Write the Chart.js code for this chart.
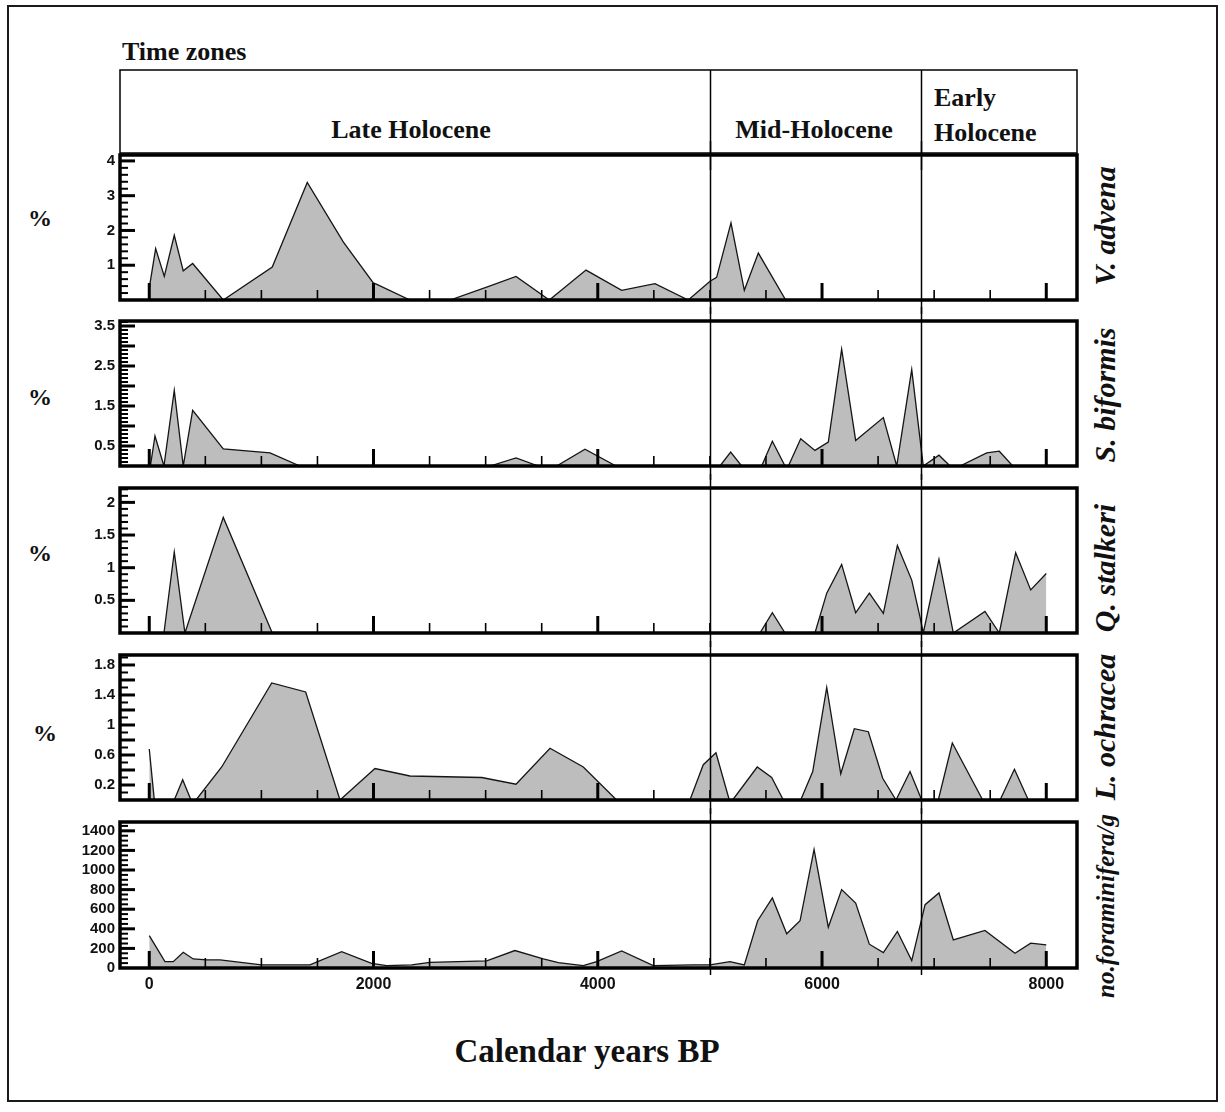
<!DOCTYPE html>
<html>
<head>
<meta charset="utf-8">
<title>Foraminifera records by time zone</title>
<script src="https://cdn.jsdelivr.net/npm/chart.js@4.4.1/dist/chart.umd.min.js"></script>
<style>
  html, body { margin:0; padding:0; background:#fff; }
  #stage { position:relative; width:1225px; height:1112px; overflow:hidden; background:#fff; }
  #frame { position:absolute; left:7px; top:5px; width:1211px; height:1097px; border:2px solid #1a1a1a; box-sizing:border-box; }
  canvas { position:absolute; left:0; }
  .lbl { position:absolute; font-family:"Liberation Serif","Times New Roman",serif; font-weight:bold; color:#111; white-space:nowrap; line-height:1; }
  .c { transform:translate(-50%,-50%); }
  .sp { position:absolute; font-family:"Liberation Serif","Times New Roman",serif; font-weight:bold; font-style:italic; color:#111; white-space:nowrap; font-size:30px; line-height:1; transform:translate(-50%,-50%) rotate(-90deg); }
</style>
</head>
<body>
<div id="stage">
  <div id="frame"></div>
  <div class="lbl" style="left:122px;top:39px;font-size:26px;">Time zones</div>
  <div class="lbl c" style="left:411px;top:130px;font-size:26px;">Late Holocene</div>
  <div class="lbl c" style="left:814px;top:130px;font-size:26px;">Mid-Holocene</div>
  <div class="lbl" style="left:934px;top:85px;font-size:26px;">Early</div>
  <div class="lbl" style="left:934px;top:120px;font-size:26px;">Holocene</div>

  <div class="lbl c" style="left:40px;top:218px;font-size:24px;">%</div>
  <div class="lbl c" style="left:40px;top:397px;font-size:24px;">%</div>
  <div class="lbl c" style="left:40px;top:553px;font-size:24px;">%</div>
  <div class="lbl c" style="left:45px;top:733px;font-size:24px;">%</div>

  <div class="sp" style="left:1105px;top:226px;">V. advena</div>
  <div class="sp" style="left:1105px;top:395px;">S. biformis</div>
  <div class="sp" style="left:1105px;top:568px;">Q. stalkeri</div>
  <div class="sp" style="left:1105px;top:727px;">L. ochracea</div>
  <div class="sp" style="left:1105px;top:906px;font-size:25px;">no.foraminifera/g</div>

  <div class="lbl c" style="left:587px;top:1051px;font-size:33px;">Calendar years BP</div>
</div>
<script>
// ---------------- data ----------------
const zoneBounds = [5000, 6880];            // Late/Mid and Mid/Early Holocene boundaries
const xTickVals   = [0, 2000, 4000, 6000, 8000];
const xTickLabels = ['0', '2000', '4000', '6000', '8000'];

const advenaYears = [0, 57, 134, 223, 303, 387, 660, 1097, 1409, 1730, 1998, 2030, 2325, 2683, 3009, 3271, 3568, 3895, 4213, 4510, 4807, 5001, 5060, 5188, 5307, 5432, 5676];
const advenaPct   = [0.35, 1.48, 0.68, 1.86, 0.84, 1.05, 0, 0.95, 3.38, 1.67, 0.49, 0.45, 0, 0, 0.37, 0.68, 0, 0.86, 0.28, 0.47, 0, 0.54, 0.65, 2.22, 0.28, 1.35, 0];

const biformisYears = [10, 51, 131, 223, 303, 387, 660, 1077, 1344, 3039, 3271, 3470, 3633, 3886, 4163, 5090, 5185, 5283, 5462, 5557, 5670, 5700, 5810, 5937, 6056, 6175, 6300, 6547, 6666, 6800, 6903, 7043, 7142, 7231, 7469, 7581, 7701];
const biformisPct   = [0, 0.75, 0, 1.89, 0, 1.39, 0.43, 0.33, 0, 0, 0.2, 0, 0, 0.42, 0, 0, 0.35, 0, 0, 0.62, 0, 0, 0.68, 0.39, 0.6, 2.92, 0.64, 1.21, 0, 2.41, 0, 0.27, 0, 0, 0.33, 0.37, 0];

const stalkeriYears = [131, 223, 318, 660, 1097, 5446, 5557, 5670, 5937, 6042, 6175, 6300, 6422, 6547, 6672, 6800, 6873, 6903, 7043, 7171, 7453, 7581, 7727, 7861, 8000];
const stalkeriPct   = [0, 1.24, 0, 1.77, 0, 0, 0.31, 0, 0, 0.61, 1.05, 0.31, 0.61, 0.3, 1.34, 0.81, 0.25, 0, 1.13, 0, 0.33, 0, 1.23, 0.66, 0.91];

const ochraceaYears = [0, 45, 223, 298, 372, 417, 646, 1092, 1395, 1701, 2013, 2325, 2965, 3271, 3574, 3871, 4168, 4822, 4941, 5054, 5173, 5203, 5422, 5551, 5655, 5810, 5917, 6042, 6167, 6288, 6413, 6541, 6660, 6785, 6889, 7037, 7162, 7433, 7588, 7716, 7840];
const ochraceaPct   = [0.68, 0, 0, 0.27, 0, 0, 0.44, 1.56, 1.44, 0, 0.42, 0.32, 0.3, 0.21, 0.69, 0.44, 0, 0, 0.47, 0.63, 0, 0, 0.44, 0.3, 0, 0, 0.38, 1.5, 0.35, 0.95, 0.91, 0.29, 0, 0.38, 0, 0, 0.76, 0, 0, 0.41, 0];

const foramYears = [0, 140, 214, 303, 392, 512, 631, 1002, 1433, 1716, 1983, 2117, 2340, 2503, 3009, 3261, 3514, 3648, 3871, 3990, 4213, 4495, 4852, 5001, 5179, 5307, 5426, 5557, 5685, 5804, 5929, 6056, 6175, 6300, 6422, 6547, 6672, 6800, 6919, 7043, 7171, 7453, 7721, 7861, 8000];
const foramPerG  = [331, 65, 65, 161, 92, 82, 82, 31, 31, 167, 48, 24, 31, 58, 72, 178, 92, 55, 24, 65, 174, 24, 31, 31, 65, 31, 482, 715, 349, 482, 1210, 417, 800, 663, 243, 157, 373, 75, 646, 766, 287, 383, 150, 253, 236];

// y tick labels of each panel
const advenaYTicks   = [1, 2, 3, 4];
const biformisYTicks = [0.5, 1.5, 2.5, 3.5];
const stalkeriYTicks = [0.5, 1, 1.5, 2];
const ochraceaYTicks = [0.2, 0.6, 1, 1.4, 1.8];
const foramYTicks    = [0, 200, 400, 600, 800, 1000, 1200, 1400];

// ---------------- layout ----------------
const X_MIN = -261, X_MAX = 8274;
const PAD = 14;
const stage = document.getElementById('stage');

const panels = [
  { years: advenaYears,   vals: advenaPct,   labels: advenaYTicks,   max: 4.17,  top: 155, bottom: 300, major: 1,   minor: 0.2 },
  { years: biformisYears, vals: biformisPct, labels: biformisYTicks, max: 3.625, top: 321, bottom: 466, major: 0.5, minor: 0.1 },
  { years: stalkeriYears, vals: stalkeriPct, labels: stalkeriYTicks, max: 2.22,  top: 488, bottom: 633, major: 0.5, minor: 0.1 },
  { years: ochraceaYears, vals: ochraceaPct, labels: ochraceaYTicks, max: 1.933, top: 655, bottom: 800, major: 0.2, minor: 0.1 },
  { years: foramYears,    vals: foramPerG,   labels: foramYTicks,    max: 1490,  top: 822, bottom: 968, major: 200, minor: 50 }
];

function drawLine(ctx, x1, y1, x2, y2, w) {
  ctx.lineWidth = w;
  ctx.beginPath(); ctx.moveTo(x1, y1); ctx.lineTo(x2, y2); ctx.stroke();
}

const panelDeco = {
  id: 'panelDeco',
  afterDatasetsDraw(chart, args, o) {
    const { ctx, chartArea: a, scales } = chart;
    const xs = scales.x, ys = scales.y;
    ctx.save();
    ctx.strokeStyle = '#000';
    ctx.lineCap = 'butt';
    if (o.header) {
      ctx.lineWidth = 1.5;
      ctx.strokeRect(a.left, a.top, a.right - a.left, a.bottom - a.top);
      zoneBounds.forEach(b => { const px = Math.round(xs.getPixelForValue(b)) + 0.5; drawLine(ctx, px, a.top, px, chart.height, 1.5); });
      ctx.restore();
      return;
    }
    // x ticks inside, pointing up
    for (let v = 0; v <= 8000; v += 500) {
      const px = xs.getPixelForValue(v);
      const maj = xTickVals.includes(v);
      drawLine(ctx, px, a.bottom, px, a.bottom - (maj ? 17 : 10), maj ? 3 : 1.6);
    }
    // y ticks inside, pointing right
    for (let k = 1; k * o.minor <= o.max + 1e-9; k++) {
      const v = k * o.minor;
      const r = v / o.major;
      const maj = Math.abs(r - Math.round(r)) < 1e-6;
      const py = ys.getPixelForValue(v);
      drawLine(ctx, a.left, py, a.left + (maj ? 15 : 8), py, maj ? 3 : 2);
    }
    // zone boundary lines
    const yEnd = o.last ? a.bottom + 7 : chart.height;
    zoneBounds.forEach(b => { const px = Math.round(xs.getPixelForValue(b)) + 0.5; drawLine(ctx, px, 0, px, yEnd, 1.5); });
    // panel frame
    ctx.lineWidth = 3.5;
    ctx.strokeRect(a.left, a.top, a.right - a.left, a.bottom - a.top);
    ctx.restore();
  }
};

function makeCanvas(top, h) {
  const c = document.createElement('canvas');
  c.width = 1225; c.height = h;
  c.style.width = '1225px'; c.style.height = h + 'px';
  c.style.top = top + 'px';
  stage.appendChild(c);
  return c;
}

// header (time zones) box, sharing the same x scale
(function () {
  const c = makeCanvas(60, 110);
  new Chart(c, {
    type: 'line',
    data: { datasets: [{ data: [] }] },
    options: {
      responsive: false, animation: false, devicePixelRatio: 1,
      layout: { padding: { left: 120, right: 148, top: 10, bottom: 17 } },
      plugins: { legend: { display: false }, tooltip: { enabled: false }, panelDeco: { header: true } },
      scales: {
        x: { type: 'linear', min: X_MIN, max: X_MAX, display: false },
        y: { type: 'linear', min: 0, max: 1, display: false }
      }
    },
    plugins: [panelDeco]
  });
})();

panels.forEach((p, i) => {
  const last = i === panels.length - 1;
  const h = (p.bottom - p.top) + PAD + (last ? 40 : PAD);
  const c = makeCanvas(p.top - PAD, h);
  new Chart(c, {
    type: 'line',
    data: {
      datasets: [{
        data: p.years.map((yr, k) => ({ x: yr, y: p.vals[k] })),
        borderColor: '#151515', borderWidth: 1.3,
        backgroundColor: '#bdbdbd', fill: 'origin',
        pointRadius: 0, tension: 0
      }]
    },
    options: {
      responsive: false, animation: false, devicePixelRatio: 1,
      layout: { padding: { left: 40, right: 148, top: PAD, bottom: last ? 0 : PAD } },
      plugins: { legend: { display: false }, tooltip: { enabled: false },
        panelDeco: { major: p.major, minor: p.minor, max: p.max, last: last } },
      scales: {
        x: {
          type: 'linear', min: X_MIN, max: X_MAX, display: last,
          grid: { display: false, drawTicks: false }, border: { display: false },
          afterBuildTicks: s => { s.ticks = xTickVals.map(v => ({ value: v })); },
          afterFit: s => { s.height = last ? 40 : 0; },
          ticks: { autoSkip: false, maxRotation: 0, padding: 7, color: '#111',
            font: { family: 'Liberation Sans, Arial, sans-serif', weight: 'bold', size: 16 },
            callback: v => { const k = xTickVals.indexOf(v); return k >= 0 ? xTickLabels[k] : ''; } }
        },
        y: {
          type: 'linear', min: 0, max: p.max,
          grid: { display: false, drawTicks: false }, border: { display: false },
          afterBuildTicks: s => { s.ticks = p.labels.map(v => ({ value: v })); },
          afterFit: s => { s.width = 80; },
          ticks: { autoSkip: false, padding: 5, color: '#111',
            font: { family: 'Liberation Sans, Arial, sans-serif', weight: 'bold', size: 15 },
            callback: v => String(v) }
        }
      }
    },
    plugins: [panelDeco]
  });
});
</script>
</body>
</html>
